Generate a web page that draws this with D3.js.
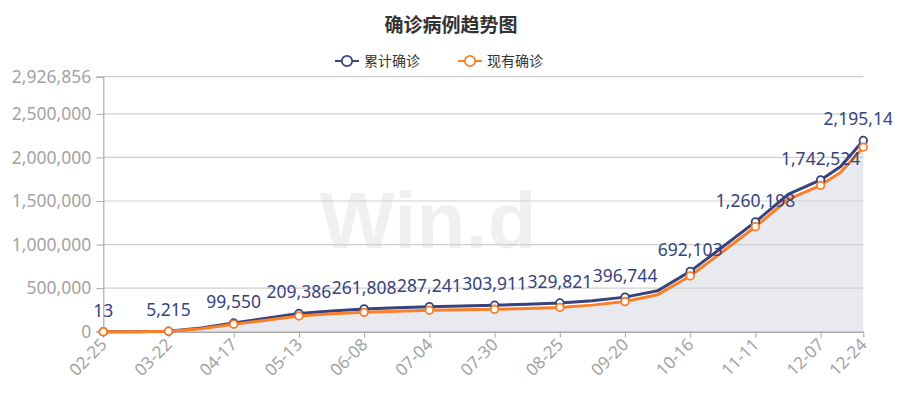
<!DOCTYPE html>
<html><head><meta charset="utf-8">
<script src="https://cdn.jsdelivr.net/npm/d3@7"></script>
<style>
html,body{margin:0;padding:0;background:#fff;}
svg{display:block;font-family:"Noto Sans","Noto Sans CJK SC",sans-serif;}
</style></head>
<body><svg id="c" width="902" height="411"></svg>
<script>
const title = "确诊病例趋势图";
const seriesNames = ["累计确诊", "现有确诊"];
const dates = ["02-25","03-09","03-22","04-04","04-17","04-30","05-13","05-26","06-08","06-21","07-04","07-17","07-30","08-12","08-25","09-07","09-20","10-03","10-16","10-29","11-11","11-24","12-07","12-15","12-24"];
const cumulative = [13, 600, 5215, 42000, 99550, 155000, 209386, 238000, 261808, 275000, 287241, 296000, 303911, 315000, 329821, 355000, 396744, 470000, 692103, 975000, 1260198, 1575000, 1742524, 1895000, 2195142];
const current = [13, 550, 4900, 34000, 86000, 132000, 180000, 205000, 222000, 236000, 247000, 252000, 257000, 266000, 279000, 305000, 346000, 425000, 640000, 920000, 1205000, 1520000, 1680000, 1830000, 2118000];
const tickLabels = ["02-25","03-22","04-17","05-13","06-08","07-04","07-30","08-25","09-20","10-16","11-11","12-07","12-24"];
const yTicks = [0, 500000, 1000000, 1500000, 2000000, 2500000, 2926856];

const colors = ["#36437d", "#fb7f28"];
const parse = d3.utcParse("%Y-%m-%d");
const toDate = s => parse("2020-" + s);

const svg = d3.select("#c");
const m = {l: 103.3, r: 863.3, t: 76.7, b: 331.7};

const x = d3.scaleUtc().domain([toDate(dates[0]), toDate(dates[dates.length-1])]).range([m.l, m.r]);
const y = d3.scaleLinear().domain([0, yTicks[yTicks.length-1]]).range([m.b, m.t]);
const fmt = d3.format(",");

svg.append("defs").append("clipPath").attr("id","lblclip")
  .append("rect").attr("x",0).attr("y",0).attr("width",892).attr("height",411);

// watermark
svg.append("text").attr("x", 428).attr("y", 248).attr("text-anchor","middle")
  .attr("font-family","Liberation Sans, Arial, sans-serif").attr("font-weight","bold")
  .attr("font-size", 80).attr("fill","#000").attr("fill-opacity",0.06).text("Win.d");

// area under current
const pts = k => dates.map((d,i)=>({d:toDate(d), v:k[i]}));
svg.append("path").datum(pts(current))
  .attr("d", d3.area().x(p=>x(p.d)).y0(y(0)).y1(p=>y(p.v)))
  .attr("fill", "#e9eaf0");

// grid
svg.append("g").selectAll("line").data(yTicks.filter(v=>v>0)).join("line")
  .attr("x1", m.l).attr("x2", m.r).attr("y1", d=>y(d)).attr("y2", d=>y(d))
  .attr("stroke", "#cfcfcf").attr("stroke-width", 1.2);

// y axis
const yAxis = svg.append("g").attr("transform", `translate(${m.l},0)`)
  .call(d3.axisLeft(y).tickValues(yTicks).tickFormat(fmt).tickSize(7).tickPadding(5));
yAxis.select(".domain").attr("stroke", "#aaa").attr("stroke-width",1.2);
yAxis.selectAll(".tick line").attr("stroke", "#aaa");
yAxis.selectAll("text").attr("fill", "#a3a3a3").attr("font-size", 17.5)
  .attr("font-family", "Noto Sans, sans-serif");

// x axis
const xAxis = svg.append("g").attr("transform", `translate(0,${m.b})`)
  .call(d3.axisBottom(x).tickValues(tickLabels.map(toDate)).tickFormat(d3.utcFormat("%m-%d")).tickSize(6).tickSizeOuter(0));
xAxis.select(".domain").attr("stroke", "#aaa").attr("stroke-width",1.5);
xAxis.selectAll(".tick line").attr("stroke", "#aaa");
xAxis.selectAll("text").attr("fill", "#a3a3a3").attr("font-size", 17)
  .attr("font-family", "Noto Sans, sans-serif")
  .attr("text-anchor","end").attr("dy", null).attr("y", 0)
  .attr("transform", "translate(4,14) rotate(-45)");

// lines
const line = d3.line().x(p=>x(p.d)).y(p=>y(p.v));
[cumulative, current].forEach((arr, k)=>{
  svg.append("path").datum(pts(arr)).attr("d", line)
    .attr("fill","none").attr("stroke", colors[k]).attr("stroke-width", 3)
    .attr("stroke-linejoin","round");
});
// markers
const isMarker = d => tickLabels.includes(d);
[cumulative, current].forEach((arr, k)=>{
  svg.append("g").selectAll("circle")
    .data(dates.map((d,i)=>({d, v:arr[i]})).filter(p=>isMarker(p.d))).join("circle")
    .attr("cx", p=>x(toDate(p.d))).attr("cy", p=>y(p.v)).attr("r", 3.8)
    .attr("fill","#fff").attr("stroke", colors[k]).attr("stroke-width", 1.8);
});
// labels
svg.append("g").attr("clip-path","url(#lblclip)").selectAll("text")
  .data(dates.map((d,i)=>({d, v:cumulative[i]})).filter(p=>isMarker(p.d))).join("text")
  .attr("x", p=>x(toDate(p.d))).attr("y", p=>y(p.v) - 15)
  .attr("text-anchor","middle").attr("fill", colors[0]).attr("font-size", 17.5)
  .attr("font-family", "Noto Sans, sans-serif")
  .text(p=>fmt(p.v));

// title
svg.append("text").attr("x", 451).attr("y", 32).attr("text-anchor","middle")
  .attr("font-family","Noto Sans CJK SC, sans-serif").attr("font-weight","bold")
  .attr("font-size", 19).attr("fill","#333").text(title);

// legend
const lg = svg.append("g");
const lx = [335, 458];
seriesNames.forEach((n,k)=>{
  const g = lg.append("g").attr("transform", `translate(${lx[k]},61)`);
  g.append("line").attr("x1",0).attr("x2",24).attr("stroke",colors[k]).attr("stroke-width",2);
  g.append("circle").attr("cx",12).attr("r",5.2).attr("fill","#fff").attr("stroke",colors[k]).attr("stroke-width",1.8);
  g.append("text").attr("x",29).attr("y",5).attr("font-size",14).attr("fill","#333")
    .attr("font-family","Noto Sans CJK SC, sans-serif").text(n);
});
</script></body></html>
